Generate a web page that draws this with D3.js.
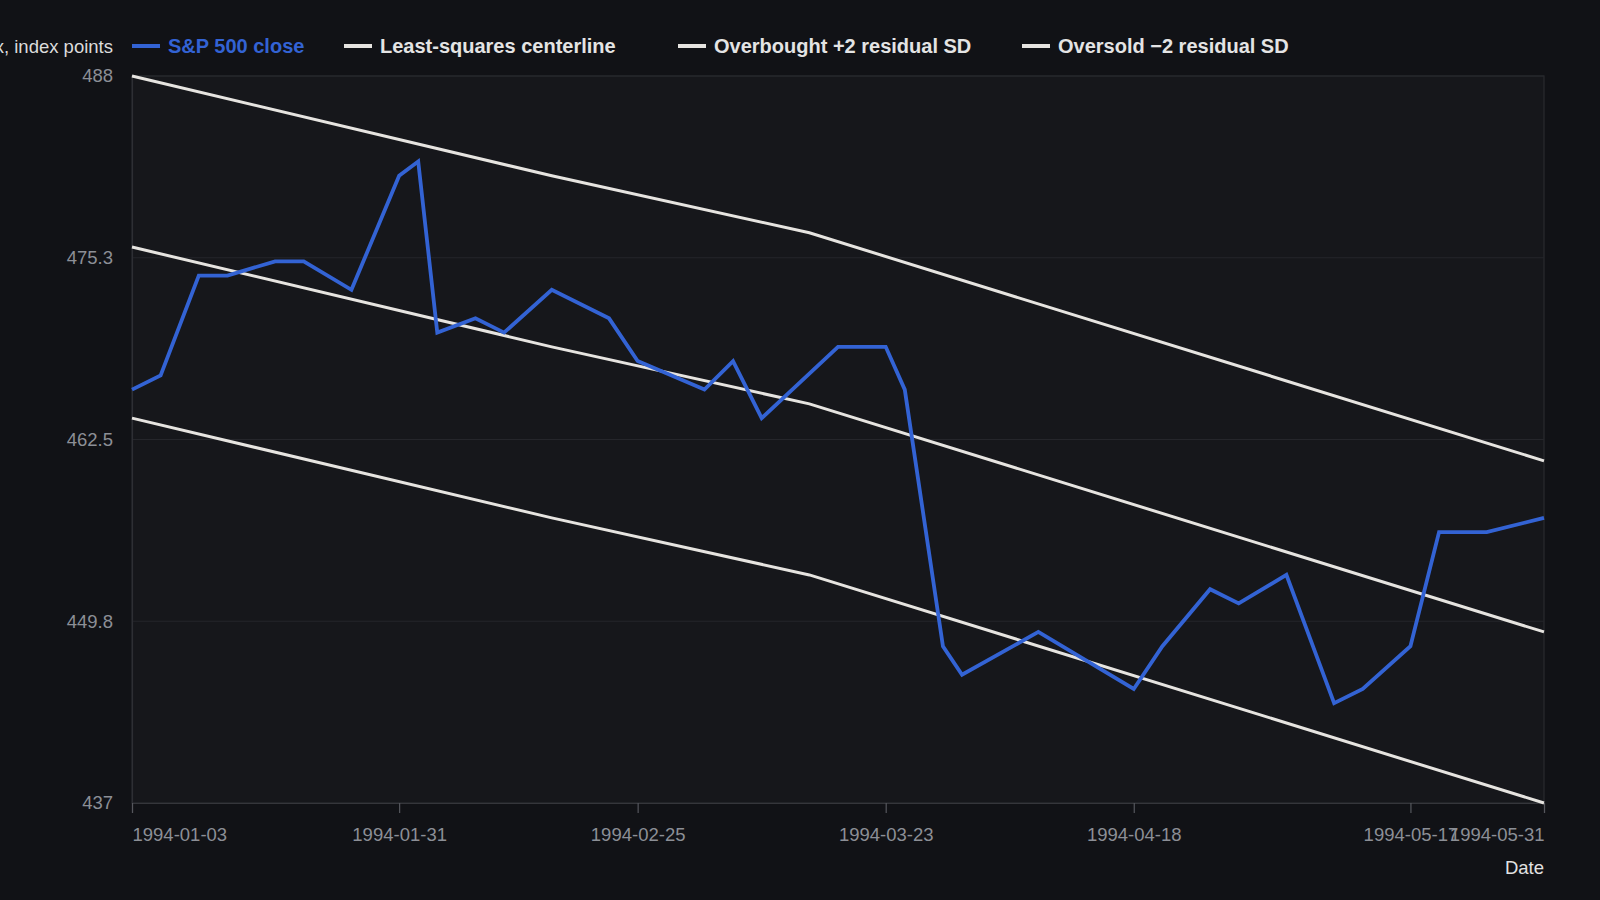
<!DOCTYPE html>
<html>
<head>
<meta charset="utf-8">
<script src="https://cdn.jsdelivr.net/npm/d3@7/dist/d3.min.js"></script>
<style>
  html, body { margin: 0; padding: 0; background: #111216; overflow: hidden; }
  svg { display: block; font-family: "Liberation Sans", Arial, sans-serif; }
</style>
</head>
<body>
<svg id="chart" width="1600" height="900"></svg>
<script>
// ---- Data ----
const closeDates = ["1994-01-03","1994-01-06","1994-01-10","1994-01-13","1994-01-18","1994-01-21","1994-01-26","1994-01-31",
  "1994-02-02","1994-02-04","1994-02-08","1994-02-11","1994-02-16","1994-02-22","1994-02-25","1994-03-04","1994-03-07",
  "1994-03-10","1994-03-18","1994-03-23","1994-03-25","1994-03-29","1994-03-31","1994-04-08","1994-04-18","1994-04-21",
  "1994-04-26","1994-04-29","1994-05-04","1994-05-09","1994-05-12","1994-05-17","1994-05-20","1994-05-25","1994-05-31"];
const closeValues = [466,467,474,474,475,475,473,481,
  482,470,471,470,473,471,468,466,468,
  464,469,469,466,448,446,449,445,448,
  452,451,453,444,445,448,456,456,457];

const bandDates = ["1994-01-03","1994-02-16","1994-03-15","1994-05-31"];
const centerValues = [476, 469, 465, 449];
const upperValues = [488, 481, 477, 461];
const lowerValues = [464, 457, 453, 437];

const xTickDates = ["1994-01-03","1994-01-31","1994-02-25","1994-03-23","1994-04-18","1994-05-17","1994-05-31"];
const yTickValues = [437, 449.75, 462.5, 475.25, 488];
const yDomain = [437, 488];

const seriesNames = ["S&P 500 close", "Least-squares centerline", "Overbought +2 residual SD", "Oversold \u22122 residual SD"];
const yTitle = "S&P 500 index, index points";
const xTitle = "Date";

// ---- Layout ----
(function () {
const parse = d3.timeParse("%Y-%m-%d");
const fmt = d3.timeFormat("%Y-%m-%d");
const pLeft = 132, pRight = 1544, pTop = 76, pBottom = 803;
const blue = "#3363d4", bandColor = "#e6e4e0";

const svg = d3.select("#chart");
svg.append("rect").attr("width", 1600).attr("height", 900).attr("fill", "#111216");

const x = d3.scaleTime().domain([parse(closeDates[0]), parse(closeDates[closeDates.length - 1])]).range([pLeft, pRight]);
const y = d3.scaleLinear().domain(yDomain).range([pBottom, pTop]);

// plot background
svg.append("rect").attr("x", pLeft).attr("y", pTop).attr("width", pRight - pLeft).attr("height", pBottom - pTop)
  .attr("fill", "#16171b").attr("stroke", "#2a2b30").attr("stroke-width", 1.2);

// horizontal gridlines
svg.append("g").selectAll("line").data(yTickValues).join("line")
  .attr("x1", pLeft).attr("x2", pRight)
  .attr("y1", d => y(d)).attr("y2", d => y(d))
  .attr("stroke", "#25262b").attr("stroke-width", 1.2);

// y axis
const yAxis = svg.append("g").attr("transform", `translate(${pLeft},0)`)
  .call(d3.axisLeft(y).tickValues(yTickValues).tickSize(0).tickPadding(19).tickFormat(d3.format(".4~")));
yAxis.select(".domain").attr("stroke", "#2e2f34").attr("stroke-width", 1.2);
yAxis.selectAll("text").attr("fill", "#8c8f96").attr("font-size", 18.5)
  .attr("font-family", "Liberation Sans, Arial, sans-serif");

// x axis
const xAxis = svg.append("g").attr("transform", `translate(0,${pBottom})`)
  .call(d3.axisBottom(x).tickValues(xTickDates.map(parse)).tickSize(10).tickPadding(15).tickFormat(fmt));
xAxis.select(".domain").attr("stroke", "#35363b").attr("stroke-width", 1.2);
xAxis.selectAll(".tick line").attr("stroke", "#55575d").attr("stroke-width", 1.2);
xAxis.selectAll("text").attr("fill", "#8c8f96").attr("font-size", 18.5)
  .attr("font-family", "Liberation Sans, Arial, sans-serif")
  .attr("text-anchor", (d, i) => i === 0 ? "start" : (i === xTickDates.length - 1 ? "end" : "middle"));

// band lines
const line = d3.line().x(d => x(d[0])).y(d => y(d[1]));
[upperValues, centerValues, lowerValues].forEach(vals => {
  svg.append("path")
    .datum(bandDates.map((d, i) => [parse(d), vals[i]]))
    .attr("d", line).attr("fill", "none")
    .attr("stroke", bandColor).attr("stroke-width", 3);
});

// close line
svg.append("path")
  .datum(closeDates.map((d, i) => [parse(d), closeValues[i]]))
  .attr("d", line).attr("fill", "none")
  .attr("stroke", blue).attr("stroke-width", 3.8).attr("stroke-linejoin", "miter");

// titles
svg.append("text").attr("x", 113).attr("y", 46).attr("text-anchor", "end").attr("dominant-baseline", "central")
  .attr("fill", "#dcdcdc").attr("font-size", 18.5).text(yTitle);
svg.append("text").attr("x", pRight).attr("y", 874).attr("text-anchor", "end")
  .attr("fill", "#e2e2e2").attr("font-size", 18.5).text(xTitle);

// legend
const legendX = [132, 344, 678, 1022];
const legendColors = [blue, bandColor, bandColor, bandColor];
const lg = svg.append("g").selectAll("g").data(seriesNames).join("g")
  .attr("transform", (d, i) => `translate(${legendX[i]},46)`);
lg.append("line").attr("x1", 0).attr("x2", 28).attr("y1", 0).attr("y2", 0)
  .attr("stroke", (d, i) => legendColors[i]).attr("stroke-width", 4);
lg.append("text").attr("x", 36).attr("y", 0).attr("dominant-baseline", "central")
  .attr("font-weight", "bold").attr("font-size", 20)
  .attr("fill", (d, i) => i === 0 ? blue : "#e4e4e4").text(d => d);
})();
</script>
</body>
</html>
